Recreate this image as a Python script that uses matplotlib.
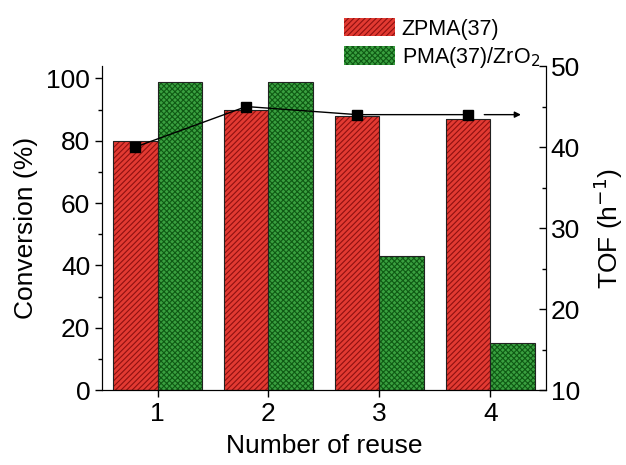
import matplotlib.pyplot as plt
import matplotlib.patches as mpatches
from matplotlib.ticker import MultipleLocator

plt.rcParams['font.family'] = ['Liberation Sans', 'DejaVu Sans']
plt.rcParams['hatch.linewidth'] = 0.8

reuse = [1, 2, 3, 4]
zpma = [80, 90, 88, 87]
pma_zro2 = [99, 99, 43, 15]
tof = [40, 45, 44, 44]

red, red_h = '#e23a32', '#8e1010'
green, green_h = '#3aa040', '#0f5a14'
w = 0.4
fs = 19

fig = plt.figure(figsize=(6.26, 4.65), dpi=100)
ax = fig.add_axes([0.163, 0.161, 0.709, 0.697])

xr = [x - w / 2 for x in reuse]
xg = [x + w / 2 for x in reuse]
ax.bar(xr, zpma, w, color=red, edgecolor=red_h, hatch='//////', linewidth=0)
ax.bar(xg, pma_zro2, w, color=green, edgecolor=green_h, hatch='xxxxxx', linewidth=0)
ax.bar(xr, zpma, w, fill=False, edgecolor='#222222', linewidth=0.8)
ax.bar(xg, pma_zro2, w, fill=False, edgecolor='#222222', linewidth=0.8)

ax.set_xlim(0.5, 4.5)
ax.set_ylim(0, 104)
ax.set_xticks(reuse)
ax.yaxis.set_major_locator(MultipleLocator(20))
ax.yaxis.set_minor_locator(MultipleLocator(10))
ax.spines['top'].set_visible(False)
ax.tick_params(axis='both', labelsize=fs, length=5, width=1, direction='out')
ax.tick_params(axis='y', which='minor', length=3, width=1, direction='out')
ax.set_xlabel('Number of reuse', fontsize=fs, labelpad=6)
ax.set_ylabel('Conversion (%)', fontsize=fs, labelpad=6)

ax2 = ax.twinx()
ax2.plot(xr, tof, color='black', linewidth=1, marker='s', markersize=6.5)
ax2.annotate('', xy=(4.3, tof[-1]), xytext=(3.92, tof[-1]),
             arrowprops=dict(arrowstyle='-|>', color='black', lw=1, mutation_scale=9))
ax2.set_xlim(0.5, 4.5)
ax2.set_ylim(10, 50)
ax2.yaxis.set_major_locator(MultipleLocator(10))
ax2.yaxis.set_minor_locator(MultipleLocator(5))
ax2.spines['top'].set_visible(False)
ax2.tick_params(axis='y', labelsize=fs, length=5, width=1, direction='in')
ax2.tick_params(axis='y', which='minor', length=3, width=1, direction='in')
ax2.set_ylabel('TOF (h$^{-1}$)', fontsize=fs, labelpad=8)

handles = [
    mpatches.Patch(facecolor=red, edgecolor=red_h, hatch='//////', linewidth=0),
    mpatches.Patch(facecolor=green, edgecolor=green_h, hatch='xxxxxx', linewidth=0),
]
fig.legend(handles, ['ZPMA(37)', 'PMA(37)/ZrO$_2$'], loc='upper left',
           bbox_to_anchor=(0.535, 0.98), frameon=False, fontsize=15.5,
           handlelength=2.4, handleheight=0.95, handletextpad=0.3,
           labelspacing=0.25, borderaxespad=0)

fig.savefig('out.png', dpi=100)
